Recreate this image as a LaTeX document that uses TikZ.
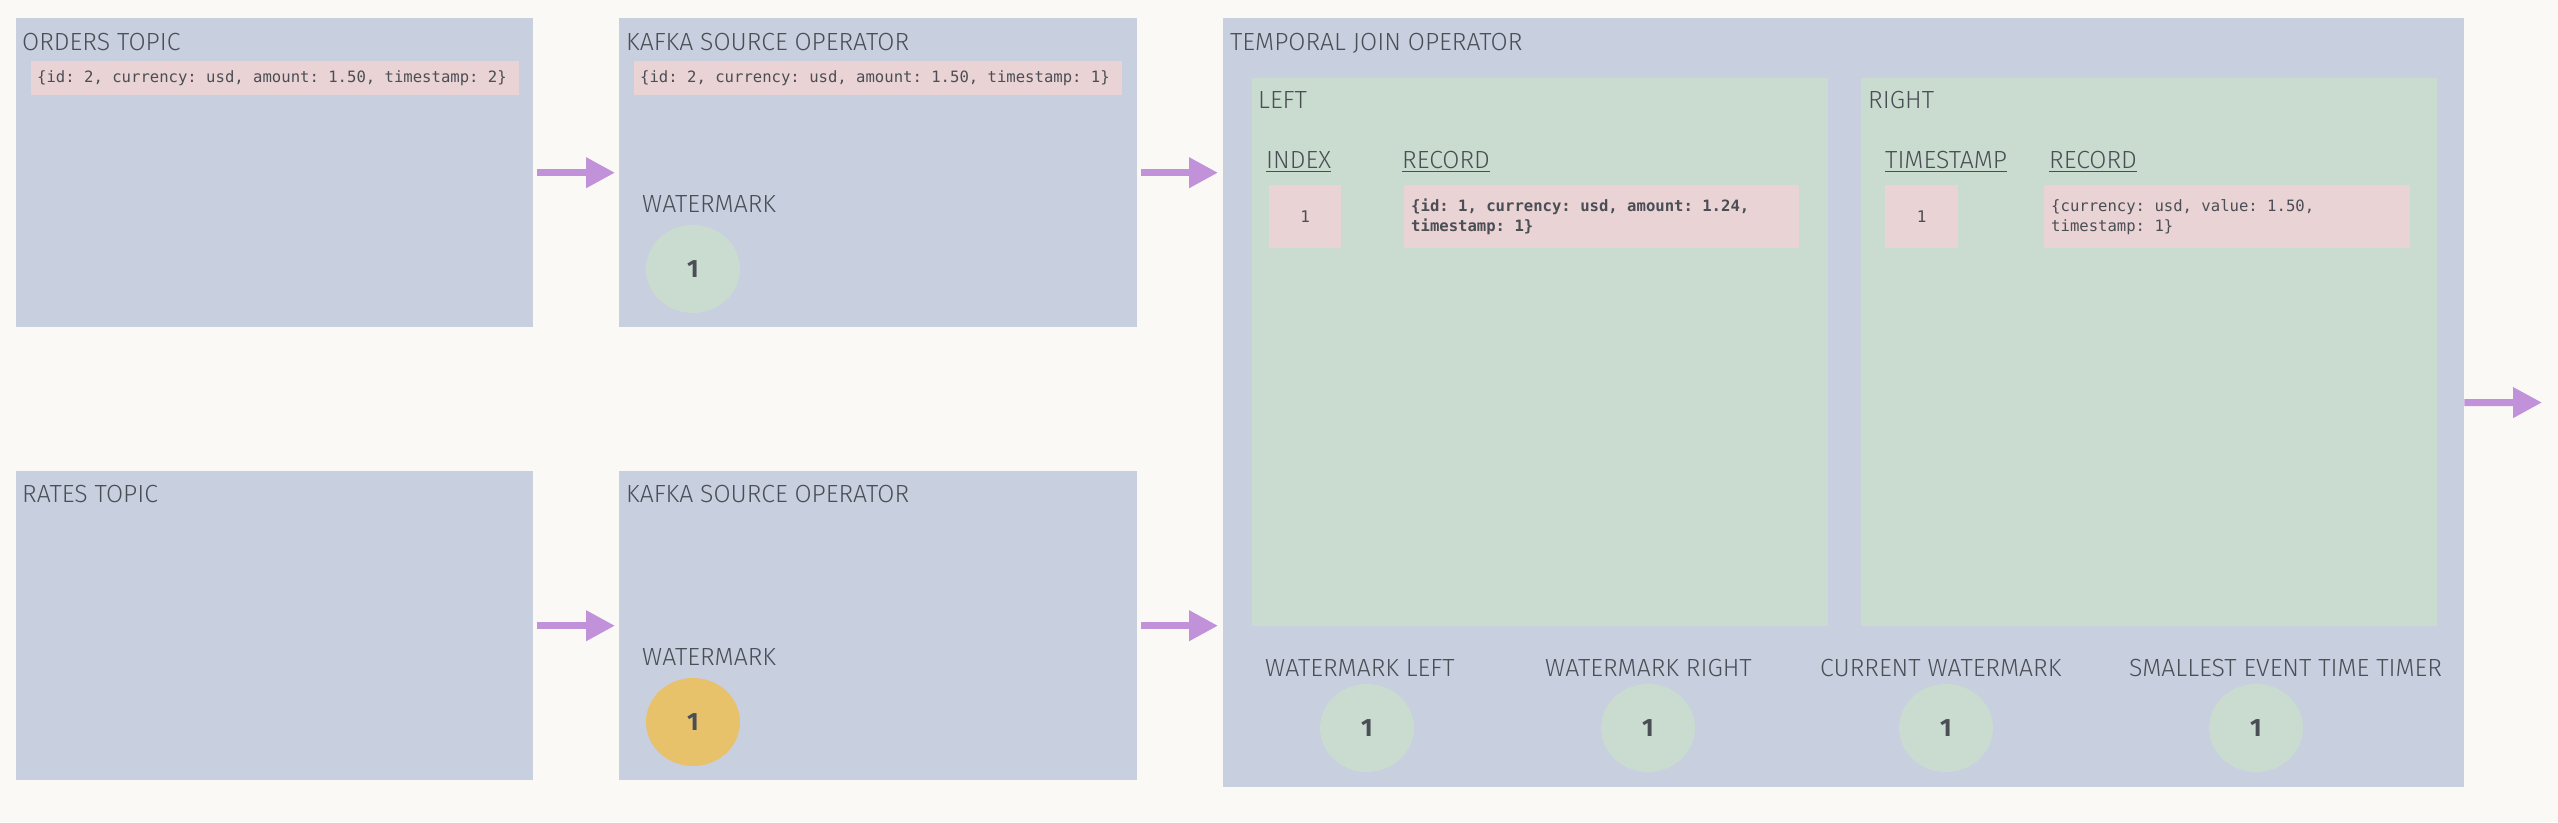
\documentclass[tikz,border=0pt]{standalone}
\usepackage{fontspec}
\setmainfont{Fira Sans}[UprightFont=* Light, BoldFont=* SemiBold]
\newfontfamily\monofont{DejaVu Sans Mono}
\newfontfamily\numfont{Fira Sans}
\newcommand\fixspaces{\frenchspacing\fontdimen2\font=\fontcharwd\font`0 \fontdimen3\font=0pt \fontdimen4\font=0pt\spaceskip=0pt\xspaceskip=0pt\relax}
\usetikzlibrary{arrows.meta,shapes.geometric}
\definecolor{bgc}{HTML}{FAF9F5}
\definecolor{boxc}{HTML}{C8CFDF}
\definecolor{greenc}{HTML}{CADBD0}
\definecolor{pinkc}{HTML}{EAD3D4}
\definecolor{arrowc}{HTML}{C192DA}
\definecolor{orangec}{HTML}{E8C16B}
\definecolor{textc}{HTML}{4A4E55}
\begin{document}
\begin{tikzpicture}[x=1pt,y=-1pt,
  box/.style={fill=boxc, draw=none, inner sep=0pt, anchor=north west},
  gbox/.style={fill=greenc, draw=none, inner sep=0pt, anchor=north west},
  title/.style={anchor=base west, inner sep=0pt, text=textc, font=\fontsize{24.8}{29}\selectfont},
  rec/.style={fill=pinkc, anchor=north west, inner ysep=0pt, align=flush left, text=textc, font=\fontsize{15.6}{20}\selectfont\monofont\fixspaces},
  cell/.style={fill=pinkc, anchor=north west, inner sep=0pt, text=textc, font=\fontsize{16}{20}\selectfont\monofont},
  dot/.style={ellipse, fill=greenc, minimum width=94pt, minimum height=88pt, inner sep=0pt, text=textc, font=\fontsize{25}{25}\selectfont\numfont\bfseries},
  flow/.style={draw=arrowc, line width=7pt, -{Triangle[length=29pt,width=29pt]}},
  uline/.style={draw=textc, line width=1.8pt}
]
\fill[bgc] (0,0) rectangle (2558,822);
\useasboundingbox (0,0) rectangle (2558,822);

% boxes
\node[box, minimum width=517pt, minimum height=309pt] (orders) at (16,18) {};
\node[box, minimum width=518pt, minimum height=309pt] (kafka1) at (619,18) {};
\node[box, minimum width=517pt, minimum height=309pt] (rates) at (16,471) {};
\node[box, minimum width=518pt, minimum height=309pt] (kafka2) at (619,471) {};
\node[box, minimum width=1241pt, minimum height=769pt] (temporal) at (1223,18) {};
\node[gbox, minimum width=576pt, minimum height=548pt] (leftbox) at (1252,78) {};
\node[gbox, minimum width=576pt, minimum height=548pt] (rightbox) at (1861,78) {};

% titles
\node[title] (tOrders) at (22,50) {ORDERS TOPIC};
\node[title] (tKafka1) at (626,50) {KAFKA SOURCE OPERATOR};
\node[title] (tTemporal) at (1230,50) {TEMPORAL JOIN OPERATOR};
\node[title] (tRates) at (22,502) {RATES TOPIC};
\node[title] (tKafka2) at (626,502) {KAFKA SOURCE OPERATOR};
\node[title] (wm1l) at (642,212) {WATERMARK};
\node[title] (wm2l) at (642,665) {WATERMARK};
\node[title] (tLeft) at (1258,108) {LEFT};
\node[title] (tRight) at (1868,108) {RIGHT};
\node[title] (idxl) at (1266,168) {INDEX};
\node[title] (recl1) at (1402,168) {RECORD};
\node[title] (tsl) at (1885,168) {TIMESTAMP};
\node[title] (recl2) at (2049,168) {RECORD};
\foreach \n in {idxl,recl1,tsl,recl2}{
  \draw[uline] ([yshift=-3.5pt]\n.base west) -- ([yshift=-3.5pt]\n.base east);
}
\node[title] (bl1) at (1265,676) {WATERMARK LEFT};
\node[title] (bl2) at (1545,676) {WATERMARK RIGHT};
\node[title] (bl3) at (1820,676) {CURRENT WATERMARK};
\node[title] (bl4) at (2129,676) {SMALLEST EVENT TIME TIMER};

% records
\node[rec, inner xsep=6pt, text width=476pt, minimum height=34pt] (rec1) at (31,61)
  {\{id: 2, currency: usd, amount: 1.50, timestamp: 2\}};
\node[rec, inner xsep=6pt, text width=476pt, minimum height=34pt] (rec2) at (634,61)
  {\{id: 2, currency: usd, amount: 1.50, timestamp: 1\}};
\node[cell, minimum width=72pt, minimum height=63pt] (idx1) at (1269,185) {1};
\node[rec, inner xsep=7pt, text width=381pt, minimum height=63pt, font=\fontsize{15.6}{20}\selectfont\monofont\bfseries\fixspaces] (lrec) at (1404,185)
  {\{id: 1, currency: usd, amount: 1.24,\\timestamp: 1\}};
\node[cell, minimum width=73pt, minimum height=63pt] (ts1) at (1885,185) {1};
\node[rec, inner xsep=7pt, text width=352pt, minimum height=63pt] (rrec) at (2044,185)
  {\{currency: usd, value: 1.50,\\timestamp: 1\}};

% watermark dots
\node[dot] (wm1) at (693,269) {1};
\node[dot, fill=orangec] (wm2) at (693,722) {1};
\node[dot] (d1) at (1367,728) {1};
\node[dot] (d2) at (1648,728) {1};
\node[dot] (d3) at (1946,728) {1};
\node[dot] (d4) at (2256,728) {1};

% arrows
\draw[flow] ([xshift=4pt]orders.east) -- ([xshift=-4pt]kafka1.west);
\draw[flow] ([xshift=4pt]rates.east) -- ([xshift=-4pt]kafka2.west);
\draw[flow] ([xshift=4pt]kafka1.east) -- ([xshift=-5pt]kafka1.east -| temporal.west);
\draw[flow] ([xshift=4pt]kafka2.east) -- ([xshift=-5pt]kafka2.east -| temporal.west);
\coordinate (out) at (2542,402.5);
\draw[flow] (temporal.east) -- (out);
\end{tikzpicture}
\end{document}
